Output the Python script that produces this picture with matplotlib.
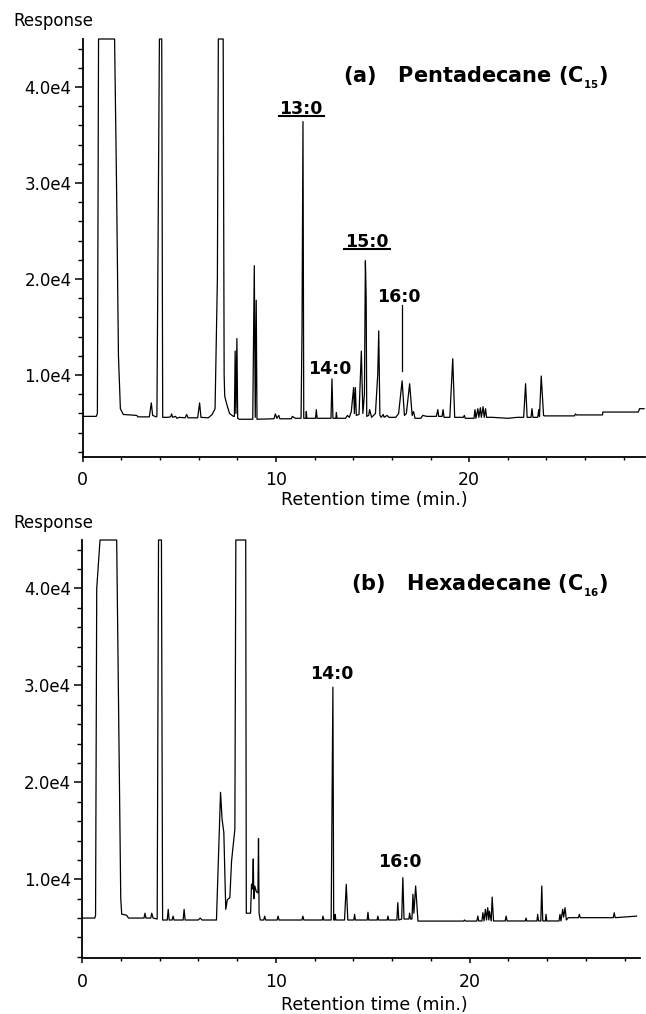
import numpy as np
import matplotlib.pyplot as plt
from matplotlib.lines import Line2D
from matplotlib.ticker import MultipleLocator, FixedLocator, FixedFormatter

# --- chromatogram (a): pentadecane, vertices ---
time_a = [0.0, 0.70, 0.76, 0.82, 1.65, 1.75, 1.85, 1.95, 2.10, 2.80, 2.85, 3.45,
          3.55, 3.62, 3.80, 3.84, 3.97, 4.09, 4.14, 4.40, 4.55, 4.60, 4.66, 4.80,
          4.88, 5.00, 5.30, 5.38, 5.45, 5.95, 6.05, 6.12, 6.50, 6.70, 6.85, 6.97,
          7.02, 7.27, 7.32, 7.35, 7.45, 7.60, 7.80, 7.85, 7.89, 7.93, 7.98, 8.02,
          8.10, 8.80, 8.88, 8.93, 8.98, 9.02, 9.90, 9.97, 10.05, 10.15, 10.20, 10.80,
          10.85, 11.00, 11.30, 11.35, 11.40, 11.44, 11.55, 11.57, 11.60, 12.05, 12.09, 12.13,
          12.85, 12.90, 12.95, 13.10, 13.13, 13.16, 13.60, 13.70, 13.80, 13.90, 14.02, 14.06,
          14.11, 14.16, 14.30, 14.42, 14.50, 14.58, 14.63, 14.67, 14.70, 14.80, 14.85, 14.95,
          15.15, 15.27, 15.32, 15.38, 15.45, 15.55, 15.60, 15.75, 15.85, 16.20, 16.35, 16.53,
          16.65, 16.75, 16.92, 17.05, 17.12, 17.20, 17.50, 17.60, 17.80, 18.30, 18.38, 18.42,
          18.60, 18.65, 18.70, 19.00, 19.15, 19.25, 19.70, 19.75, 19.80, 20.25, 20.30, 20.35,
          20.45, 20.50, 20.58, 20.63, 20.72, 20.78, 20.85, 20.90, 21.20, 22.00, 22.50, 22.82,
          22.92, 23.00, 23.20, 23.25, 23.30, 23.55, 23.60, 23.64, 23.73, 23.85, 23.90, 25.45,
          25.50, 25.55, 26.90, 26.92, 28.75, 28.82, 29.05]
resp_a = [5700, 5700, 6000, 45000, 45000, 30000, 12000, 6500, 5900, 5800, 5650, 5650,
          7100, 5800, 5650, 5700, 45000, 45000, 5600, 5600, 5650, 5950, 5600, 5700,
          5500, 5600, 5550, 5900, 5550, 5550, 7100, 5600, 5550, 5900, 6500, 20000,
          45000, 45000, 10000, 7800, 7000, 6000, 5700, 5700, 12500, 6000, 13800, 5500,
          5400, 5400, 21400, 5600, 17800, 5400, 5450, 5950, 5500, 5800, 5450, 5450,
          5700, 5500, 5500, 14800, 36400, 5500, 5500, 6200, 5500, 5500, 6400, 5500,
          5500, 9600, 5500, 5500, 6100, 5500, 5500, 5800, 5600, 6200, 8700, 6000,
          8700, 5800, 5900, 12500, 6000, 8000, 21900, 18000, 5700, 5800, 6400, 5600,
          6000, 10100, 14600, 5800, 5600, 5900, 5600, 5800, 5600, 5600, 6000, 9400,
          5800, 6000, 9100, 5800, 6200, 5500, 5500, 5800, 5700, 5700, 6400, 5700,
          5700, 6400, 5600, 5600, 11700, 5600, 5600, 5800, 5500, 5500, 6400, 5500,
          6500, 5600, 6600, 5600, 6700, 5600, 6500, 5600, 5600, 5500, 5600, 5600,
          9100, 5600, 5600, 6500, 5600, 5600, 6400, 5700, 9900, 5800, 5750, 5750,
          5950, 5850, 5850, 6150, 6150, 6500, 6500]

# --- chromatogram (b): hexadecane ---
time_b = [0.0, 0.66, 0.70, 0.76, 0.93, 1.79, 2.00, 2.05, 2.30, 2.40, 3.20, 3.25,
          3.30, 3.55, 3.60, 3.67, 3.88, 3.95, 4.10, 4.16, 4.40, 4.45, 4.50, 4.65,
          4.70, 4.75, 5.22, 5.27, 5.32, 6.00, 6.10, 6.20, 6.94, 7.15, 7.23, 7.32,
          7.42, 7.50, 7.63, 7.72, 7.89, 7.94, 8.45, 8.48, 8.70, 8.75, 8.80, 8.84,
          8.87, 8.92, 9.00, 9.08, 9.11, 9.14, 9.20, 9.38, 9.43, 9.48, 10.07, 10.12,
          10.17, 11.35, 11.40, 11.45, 12.40, 12.44, 12.48, 12.86, 12.90, 12.95, 12.99, 13.04,
          13.07, 13.10, 13.55, 13.64, 13.72, 14.03, 14.07, 14.11, 14.72, 14.76, 14.80, 15.23,
          15.27, 15.31, 15.75, 15.79, 15.83, 16.25, 16.30, 16.35, 16.50, 16.56, 16.62, 16.87,
          16.91, 16.96, 17.03, 17.08, 17.13, 17.22, 17.34, 19.70, 19.74, 19.80, 20.38, 20.43,
          20.48, 20.64, 20.69, 20.75, 20.82, 20.88, 20.94, 21.00, 21.03, 21.12, 21.17, 21.24,
          21.84, 21.89, 21.94, 22.88, 22.92, 22.96, 23.48, 23.52, 23.56, 23.68, 23.73, 23.78,
          23.92, 23.95, 23.99, 24.62, 24.67, 24.72, 24.81, 24.86, 24.93, 25.00, 25.10, 25.62,
          25.67, 25.72, 27.42, 27.47, 27.52, 28.62]
resp_b = [6000, 6000, 6300, 40000, 45000, 45000, 8000, 6400, 6300, 6000, 6000, 6500,
          6000, 6000, 6500, 6000, 5900, 45000, 45000, 5800, 5800, 6900, 5800, 5800,
          6200, 5800, 5800, 6900, 5800, 5800, 6000, 5800, 5800, 18970, 16200, 14830,
          6900, 7900, 8100, 11900, 15170, 45000, 45000, 6500, 6500, 9500, 9000, 12100,
          8000, 9300, 8700, 8600, 14200, 6500, 5800, 5800, 6200, 5800, 5800, 6200,
          5800, 5800, 6200, 5800, 5800, 6200, 5800, 5800, 16550, 29820, 5800, 5800,
          6380, 5800, 5800, 9480, 5800, 5800, 6380, 5800, 5800, 6600, 5800, 5800,
          6200, 5800, 5800, 6200, 5800, 5800, 7590, 5800, 5900, 10170, 5900, 5900,
          6500, 5900, 5900, 8450, 6500, 9310, 5690, 5690, 5800, 5690, 5690, 6210,
          5700, 5700, 6550, 5700, 6900, 5800, 7070, 5800, 6700, 5700, 8170, 5700,
          5700, 6200, 5700, 5700, 6000, 5700, 5700, 6380, 5700, 5700, 9310, 5700,
          5700, 6380, 5700, 5700, 6380, 5700, 6900, 6100, 7070, 5800, 6040, 6040,
          6380, 6040, 6040, 6550, 6040, 6200]

# peak labels: (text, time, response at baseline of label, underlined)
labels_a = [("13:0", 11.31, 37150, True), ("15:0", 14.72, 23360, True),
            ("16:0", 16.36, 17600, False), ("14:0", 12.81, 10100, False)]
labels_b = [("14:0", 12.89, 30680, False), ("16:0", 16.39, 11310, False)]
leader_a = (16.53, 17260, 10450)  # time, top, bottom of the 16:0 pointer line

y_major = [10000, 20000, 30000, 40000]
y_major_text = ["1.0e4", "2.0e4", "3.0e4", "4.0e4"]
y_minor = list(range(2000, 46000, 2000))
x_major = [0, 10, 20]

W, H = 646, 1014
fig = plt.figure(figsize=(W / 100, H / 100), dpi=100)

panels = [
    dict(rect=[82.7 / W, 1 - 456.7 / H, 562.3 / W, 417.7 / H], t=time_a, r=resp_a,
         xmax=29.1, ymin=1500, labels=labels_a,
         title=r"(a)   Pentadecane (C$_{_{\mathbf{15}}}$)", title_pos=(20.33, 40470),
         resp_y=26, xlab_y=500),
    dict(rect=[82 / W, 1 - 958.3 / H, 558 / W, 418.3 / H], t=time_b, r=resp_b,
         xmax=28.8, ymin=1850, labels=labels_b,
         title=r"(b)   Hexadecane (C$_{_{\mathbf{16}}}$)", title_pos=(20.52, 39710),
         resp_y=528.3, xlab_y=1005),
]

underlined = []
for i, p in enumerate(panels):
    ax = fig.add_axes(p["rect"])
    ax.plot(p["t"], p["r"], color="black", lw=0.9, clip_on=False)
    ax.set_xlim(0, p["xmax"])
    ax.set_ylim(p["ymin"], 45000)
    for s in ("top", "right"):
        ax.spines[s].set_visible(False)
    for s in ("left", "bottom"):
        ax.spines[s].set_linewidth(1.3)
    ax.xaxis.set_major_locator(FixedLocator(x_major))
    ax.xaxis.set_minor_locator(MultipleLocator(2))
    ax.yaxis.set_major_locator(FixedLocator(y_major))
    ax.yaxis.set_major_formatter(FixedFormatter(y_major_text))
    ax.yaxis.set_minor_locator(FixedLocator(y_minor))
    ax.tick_params(axis="y", which="major", length=6, width=1.1, pad=2, labelsize=12)
    ax.tick_params(axis="y", which="minor", length=3.5, width=1.0)
    ax.tick_params(axis="x", which="major", length=3.5, width=1.1, pad=7, labelsize=12.5)
    ax.tick_params(axis="x", which="minor", length=2.5, width=1.0)

    for txt, t, v, ul in p["labels"]:
        h = ax.text(t, v, txt, ha="center", va="baseline", fontsize=12.5,
                    fontweight="bold")
        if ul:
            underlined.append(h)
    ax.text(*p["title_pos"], p["title"], ha="center", va="baseline",
            fontsize=15, fontweight="bold")
    if i == 0:
        ax.plot([leader_a[0]] * 2, leader_a[1:], color="black", lw=0.9)

    fig.text(13 / W, 1 - p["resp_y"] / H, "Response", fontsize=12, va="baseline")
    fig.text(374 / W, 1 - p["xlab_y"] / H, "Retention time (min.)", fontsize=12.5,
             ha="center", va="center")

# underline the marked peak labels
fig.canvas.draw()
rend = fig.canvas.get_renderer()
for h in underlined:
    bb = h.get_window_extent(rend)
    y = (bb.y0 + 2) / H
    fig.add_artist(Line2D([(bb.x0 - 1) / W, (bb.x1 + 1) / W], [y, y],
                          transform=fig.transFigure, color="black", lw=1.5))

fig.savefig("out.png", dpi=100)
